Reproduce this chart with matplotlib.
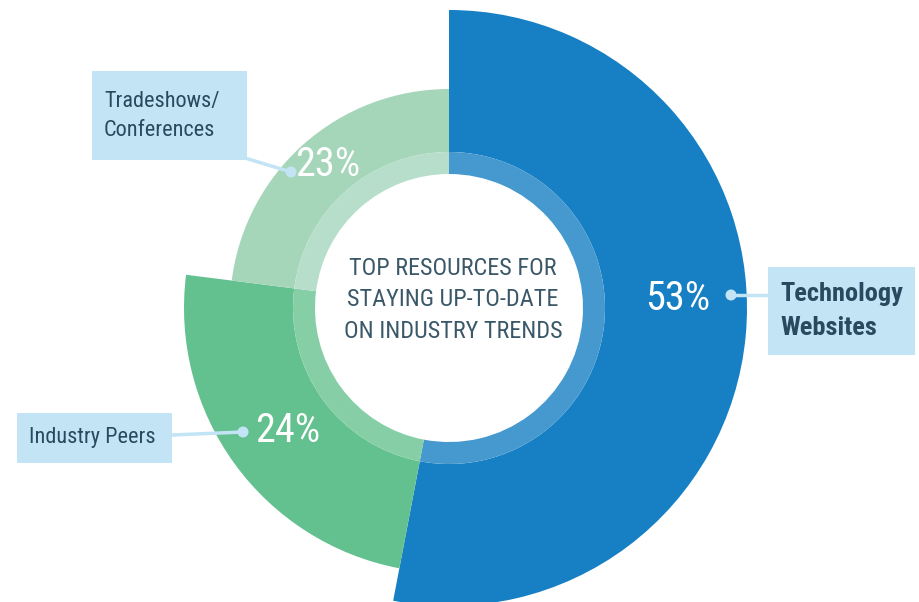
"""Donut chart: top resources for staying up-to-date on industry trends."""

import matplotlib
matplotlib.use("Agg")
import matplotlib.pyplot as plt
from matplotlib import font_manager
from matplotlib.patches import Wedge, Circle, Rectangle

# data
categories = ["Technology\nWebsites", "Industry Peers", "Tradeshows/\nConferences"]
shares = [53, 24, 23]
pct_labels = ["53%", "24%", "23%"]
center_title = "TOP RESOURCES FOR\nSTAYING UP-TO-DATE\nON INDUSTRY TRENDS"

# styling
outer_radius = [298, 265, 219]
band_outer, hole_radius = 156, 134
fill_colors = ["#1780c4", "#63c18f", "#a6d6b9"]
band_colors = ["#4599cf", "#86cea6", "#b6decb"]
box_color = "#c2e4f5"
text_color = "#274a5e"


def _pick_font(names):
    for name in names:
        try:
            font_manager.findfont(name, fallback_to_default=False)
            return name
        except Exception:
            continue
    return "DejaVu Sans"


FONT = _pick_font(["Liberation Sans Narrow", "Roboto Condensed", "Roboto", "DejaVu Sans"])
plt.rcParams["font.family"] = [FONT, "DejaVu Sans"]

fig = plt.figure(figsize=(9.19, 6.02), dpi=100)
ax = fig.add_axes([0, 0, 1, 1])
ax.set_xlim(-449, 470)
ax.set_ylim(-294, 308)
ax.set_aspect("equal")
ax.axis("off")

# wedges go clockwise from 12 o'clock
start = 90.0
for share, r, fc, bc in zip(shares, outer_radius, fill_colors, band_colors):
    sweep = share / sum(shares) * 360.0
    end = start - sweep
    ax.add_patch(Wedge((0, 0), r, end, start, width=r - band_outer, facecolor=fc, edgecolor="none"))
    ax.add_patch(Wedge((0, 0), band_outer, end, start, width=band_outer - hole_radius,
                       facecolor=bc, edgecolor="none"))
    start = end

ax.text(4, 8, center_title, ha="center", va="center", fontsize=17.5, color="#3a5868",
        linespacing=1.45)

# percent labels, dots, connectors and boxes
pct_pos = [(229, 10), (-161, -122), (-121, 143)]
dot_pos = [(282, 13), (-206, -124), (-158, 136)]
for (px, py), txt in zip(pct_pos, pct_labels):
    ax.text(px, py, txt, ha="center", va="center", fontsize=29, color="white")

boxes = [(319, -47, 147, 88), (-432, -155, 155, 50), (-357, 148, 155, 89)]
box_anchor = [(319, 13), (-277, -127), (-204, 150)]
for (dx, dy), (bx, by) in zip(dot_pos, box_anchor):
    ax.plot([dx, bx], [dy, by], color=box_color, lw=2.5, solid_capstyle="butt", zorder=3)
    ax.add_patch(Circle((dx, dy), 5.5, facecolor=box_color, edgecolor="none", zorder=4))

for (bx, by, bw, bh), cat, i in zip(boxes, categories, range(3)):
    ax.add_patch(Rectangle((bx, by), bw, bh, facecolor=box_color, edgecolor="none", zorder=3))
    ax.text(bx + 12, by + bh / 2, cat, ha="left", va="center", zorder=5,
            fontsize=19 if i == 0 else 16, fontweight="bold" if i == 0 else "normal",
            color=text_color, linespacing=1.5)

fig.savefig("out.png", dpi=100)
